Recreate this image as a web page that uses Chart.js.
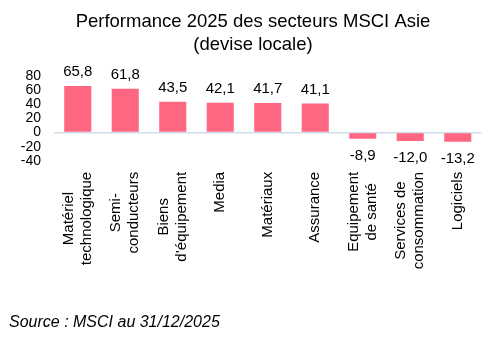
<!DOCTYPE html>
<html>
<head>
<meta charset="utf-8">
<script src="https://cdn.jsdelivr.net/npm/chart.js@4"></script>
<style>
    body { margin: 0; background: #fff; }
    #wrap { width: 492px; height: 342px; }
</style>
</head>
<body>
<div id="wrap"><canvas id="perf-chart" width="492" height="342"></canvas></div>
<script>
// Secteurs MSCI Asie, performance 2025 en devise locale (%)
const sectors = [
    ["Matériel", "technologique"],
    ["Semi-", "conducteurs"],
    ["Biens", "d’équipement"],
    ["Media"],
    ["Matériaux"],
    ["Assurance"],
    ["Equipement", "de santé"],
    ["Services de", "consommation"],
    ["Logiciels"]
];
const performance = [65.8, 61.8, 43.5, 42.1, 41.7, 41.1, -8.9, -12.0, -13.2];
const yMin = -40;
const yMax = 80;
const yStep = 20;
const titleLines = ["Performance 2025 des secteurs MSCI Asie", "(devise locale)"];

const FONT = "'Liberation Sans', Arial, sans-serif";

function fmt(v) {
    return v.toFixed(1).replace(".", ",");
}

// title is drawn by hand, it sits a bit right of the canvas centre
const titleText = {
    id: "titleText",
    afterDraw(chart) {
        const ctx = chart.ctx;
        ctx.save();
        ctx.font = "18.5px " + FONT;
        ctx.fillStyle = "#000";
        ctx.textAlign = "center";
        ctx.textBaseline = "middle";
        titleLines.forEach((t, i) => ctx.fillText(t, 253, 22 + i * 22.5));
        ctx.restore();
    }
};

// values above / below each bar
const valueLabels = {
    id: "valueLabels",
    afterDatasetsDraw(chart) {
        const ctx = chart.ctx;
        const meta = chart.getDatasetMeta(0);
        ctx.save();
        ctx.font = "15px " + FONT;
        ctx.fillStyle = "#000";
        ctx.textAlign = "center";
        ctx.textBaseline = "middle";
        meta.data.forEach((bar, i) => {
            const v = performance[i];
            const y = v >= 0 ? bar.y - 14 : bar.y + 17;
            ctx.fillText(fmt(v), bar.x, y);
        });
        ctx.restore();
    }
};

// rotated category labels, lines centred on the longest one
const sectorLabels = {
    id: "sectorLabels",
    afterDraw(chart) {
        const ctx = chart.ctx;
        const xScale = chart.scales.x;
        const top = chart.chartArea.bottom + 11;
        const lineH = 18;
        ctx.save();
        ctx.font = "15px " + FONT;
        ctx.fillStyle = "#000";
        ctx.textAlign = "center";
        ctx.textBaseline = "middle";
        sectors.forEach((lines, i) => {
            const x = xScale.getPixelForValue(i);
            const maxW = Math.max(...lines.map(l => ctx.measureText(l).width));
            ctx.save();
            ctx.translate(x, top);
            ctx.rotate(-Math.PI / 2);
            lines.forEach((l, j) => {
                const dy = (j - (lines.length - 1) / 2) * lineH;
                ctx.fillText(l, -maxW / 2, dy);
            });
            ctx.restore();
        });
        ctx.restore();
    }
};

document.addEventListener("DOMContentLoaded", () => {
    Chart.defaults.font.family = FONT;
    Chart.defaults.color = "#000";

    const ctx = document.getElementById("perf-chart").getContext("2d");
    new Chart(ctx, {
        type: "bar",
        data: {
            labels: sectors,
            datasets: [{
                data: performance,
                backgroundColor: "#ff6682",
                borderWidth: 0,
                categoryPercentage: 1,
                barPercentage: 0.57
            }]
        },
        options: {
            responsive: false,
            animation: false,
            layout: { padding: { left: 9, right: 10.5, top: 76, bottom: 0 } },
            plugins: {
                legend: { display: false },
                tooltip: { enabled: false },
                title: { display: false },
                subtitle: {
                    display: true,
                    position: "bottom",
                    align: "start",
                    text: "Source : MSCI au 31/12/2025",
                    font: { size: 16, style: "italic", lineHeight: 1.2 },
                    color: "#000",
                    padding: { top: 152, bottom: 10 }
                }
            },
            scales: {
                x: {
                    display: false
                },
                y: {
                    min: yMin,
                    max: yMax,
                    afterFit(scale) { scale.width = 45; },
                    ticks: {
                        stepSize: yStep,
                        autoSkip: false,
                        padding: 13,
                        font: { size: 14 },
                        color: "#000"
                    },
                    grid: {
                        drawTicks: false,
                        lineWidth: 1.5,
                        color: c => c.tick && c.tick.value === 0 ? "#cfdde8" : "transparent"
                    },
                    border: { display: false }
                }
            }
        },
        plugins: [titleText, valueLabels, sectorLabels]
    });
});
</script>
</body>
</html>
